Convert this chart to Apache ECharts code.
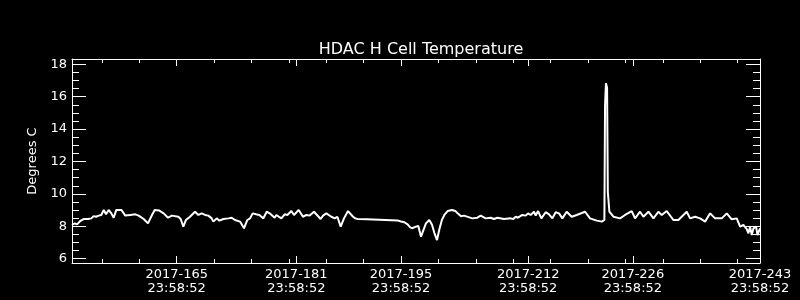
<!DOCTYPE html>
<html>
<head>
<meta charset="utf-8">
<script src="https://cdn.jsdelivr.net/npm/echarts@6/dist/echarts.min.js"></script>
<style>
html,body{margin:0;padding:0;background:#000;}
#c{width:800px;height:300px;}
</style>
</head>
<body>
<div id="c"></div>
<script>
var titleText = 'HDAC H Cell Temperature';
var yName = 'Degrees C';
var yearPrefix = '2017-';
var tickTime = '23:58:52';
var xMajorDays = [165, 181, 195, 212, 226, 243];
var xMinorDays = [155,160,165,170,175,180,185,190,195,200,205,210,215,220,225,230,235,240];
var yMajor = [6, 8, 10, 12, 14, 16, 18];
var yMinor = [6.5,7,7.5,8.5,9,9.5,10.5,11,11.5,12.5,13,13.5,14.5,15,15.5,16.5,17,17.5];

var dayOfYear = [
151.0,151.36,151.67,152.11,152.56,153.14,153.59,153.90,154.21,154.57,154.92,155.24,155.55,155.90,156.26,156.57,156.93,157.60,158.13,158.80,159.47,159.92,160.59,161.16,161.70,162.06,162.68,163.26,163.84,164.37,
164.55,165.22,165.53,165.89,166.24,166.78,167.45,167.90,168.34,168.79,169.23,169.68,169.90,170.35,170.70,171.24,171.91,172.35,172.80,173.47,174.00,174.45,174.81,175.16,175.61,176.05,176.59,177.03,
177.43,178.10,178.32,178.99,179.44,179.80,180.33,180.69,181.31,181.89,182.34,182.78,183.36,184.25,184.57,185.01,185.68,186.13,186.48,186.93,187.37,187.91,188.58,188.89,189.2,
190.4,194.55,
195.0,195.44,195.88,196.19,196.46,196.64,197.0,197.31,197.67,197.98,198.33,198.78,199.14,199.45,199.81,200.12,200.47,200.79,201.23,201.81,202.26,202.57,203.02,203.42,
204.53,205.20,205.65,206.32,206.99,207.43,207.88,208.77,209.66,210.02,210.33,210.64,211.22,211.67,211.98,212.34,212.78,213.01,213.32,213.76,214.34,214.79,215.23,215.68,216.13,216.57,216.79,
217.15,217.82,218.49,219.61,220.27,221.17,221.84,222.19,
222.28,222.40,222.55,222.65,222.86,
223.40,224.29,224.96,225.85,226.29,226.96,227.41,228.08,228.75,229.41,229.86,230.53,231.42,232.09,233.20,233.65,234.32,234.99,235.66,236.33,236.99,237.89,238.55,239.22,239.89,240.34,240.78,241.23,241.45,241.67,241.90,242.12,242.48,242.66,243.0
];
var tempC = [
8.08,8.18,8.12,8.33,8.45,8.45,8.49,8.63,8.59,8.66,8.70,9.01,8.74,9.01,8.80,8.53,9.01,9.01,8.66,8.70,8.74,8.66,8.45,8.18,8.70,9.01,8.97,8.80,8.53,8.66,
8.66,8.59,8.45,7.98,8.39,8.59,8.90,8.70,8.80,8.70,8.66,8.49,8.29,8.49,8.35,8.45,8.49,8.53,8.39,8.29,7.88,8.39,8.49,8.80,8.74,8.70,8.49,8.90,
8.80,8.53,8.70,8.49,8.74,8.70,8.94,8.70,9.01,8.59,8.70,8.66,8.90,8.45,8.66,8.80,8.59,8.49,8.59,7.98,8.49,8.94,8.59,8.49,8.45,
8.43,8.36,
8.30,8.25,8.12,7.95,7.88,8.00,7.98,8.02,7.36,7.75,8.18,8.39,8.10,7.60,7.15,7.80,8.40,8.70,8.94,9.01,8.95,8.80,8.62,8.66,
8.49,8.53,8.66,8.49,8.53,8.45,8.53,8.45,8.49,8.45,8.59,8.53,8.70,8.66,8.80,8.70,8.90,8.66,8.94,8.49,8.87,8.74,8.49,8.87,8.80,8.49,8.59,
8.90,8.59,8.70,8.90,8.49,8.35,8.29,8.39,
15.49,16.83,16.55,10.13,8.90,
8.59,8.49,8.70,8.94,8.49,8.90,8.59,8.90,8.49,8.90,8.70,8.94,8.39,8.39,8.90,8.49,8.59,8.49,8.29,8.80,8.49,8.49,8.80,8.43,8.49,7.98,8.08,7.83,7.57,7.98,7.46,7.87,7.98,7.46,7.87
];

var seriesData = dayOfYear.map(function (d, i) { return [d, tempC[i]]; });

var FONT = 'DejaVu Sans';
var WHITE = '#ffffff';
var X_MIN = 151, X_MAX = 243;
var Y_MIN = 5.735, Y_MAX = 18.327;

function xAx(pos, ticks, len, withLine, withLabels) {
  return {
    type: 'value', position: pos, min: X_MIN, max: X_MAX,
    axisLine: { show: withLine, onZero: false, lineStyle: { color: WHITE, width: 1 } },
    axisTick: { show: true, inside: true, length: len, customValues: ticks, lineStyle: { color: WHITE, width: 1 } },
    axisLabel: withLabels ? {
      show: true, customValues: ticks, color: WHITE, fontFamily: FONT, fontSize: 13,
      lineHeight: 14, margin: 5, showMinLabel: true, showMaxLabel: true,
      formatter: function (v) { return yearPrefix + Math.round(v) + '\n' + tickTime; }
    } : { show: false },
    splitLine: { show: false }
  };
}
function yAx(pos, ticks, len, withLine, withLabels) {
  var a = {
    type: 'value', position: pos, min: Y_MIN, max: Y_MAX,
    axisLine: { show: withLine, onZero: false, lineStyle: { color: WHITE, width: 1 } },
    axisTick: { show: true, inside: true, length: len, customValues: ticks, lineStyle: { color: WHITE, width: 1 } },
    axisLabel: withLabels ? {
      show: true, customValues: ticks, color: WHITE, fontFamily: FONT, fontSize: 13, margin: 5,
      showMinLabel: true, showMaxLabel: true
    } : { show: false },
    splitLine: { show: false }
  };
  if (withLabels) {
    a.name = yName;
    a.nameLocation = 'middle';
    a.nameGap = 28;
    a.nameRotate = 90;
    a.nameTextStyle = { color: WHITE, fontFamily: FONT, fontSize: 13 };
  }
  return a;
}

var chart = echarts.init(document.getElementById('c'), null, { renderer: 'canvas' });
chart.setOption({
  backgroundColor: '#000000',
  animation: false,
  title: {
    text: titleText, left: 416, textAlign: 'center', top: 37,
    textStyle: { color: WHITE, fontFamily: FONT, fontSize: 16, fontWeight: 'normal' }
  },
  grid: { left: 72, right: 40, top: 59, bottom: 37, containLabel: false, show: false },
  xAxis: [
    xAx('bottom', xMajorDays, 7, true, true),
    xAx('bottom', xMinorDays, 4, false, false),
    xAx('top', xMajorDays, 7, true, false),
    xAx('top', xMinorDays, 4, false, false)
  ],
  yAxis: [
    yAx('left', yMajor, 14, true, true),
    yAx('left', yMinor, 7, false, false),
    yAx('right', yMajor, 14, true, false),
    yAx('right', yMinor, 7, false, false)
  ],
  series: [{
    type: 'line', xAxisIndex: 0, yAxisIndex: 0,
    data: seriesData, showSymbol: false, symbol: 'none',
    lineStyle: { color: WHITE, width: 2 }, silent: true
  }]
});
</script>
</body>
</html>
